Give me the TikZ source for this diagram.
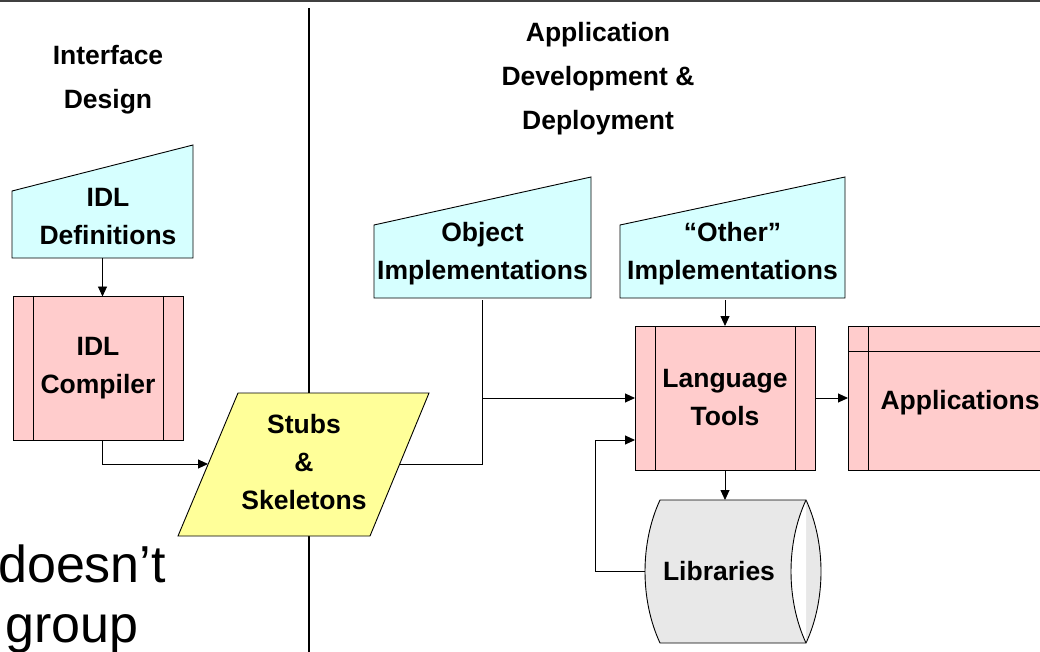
\documentclass[tikz,border=0pt]{standalone}
\usepackage{fontspec}
\setmainfont{Liberation Sans}
\usetikzlibrary{arrows.meta}

\definecolor{inputfill}{RGB}{214,255,255}
\definecolor{procfill}{RGB}{255,204,204}
\definecolor{datafill}{RGB}{255,255,153}
\definecolor{drumfill}{RGB}{232,232,232}

\begin{document}
\begin{tikzpicture}[x=1pt,y=-1pt,
    txt/.style={font=\bfseries\fontsize{26.5}{38}\selectfont,align=center,inner sep=0pt,outer sep=0pt},
    head/.style={txt,font=\bfseries\fontsize{26.5}{44}\selectfont},
    outl/.style={draw=black,line width=0.9pt},
    proc/.style={txt,outl,fill=procfill,minimum height=144pt},
    link/.style={line width=0.9pt},
    arr/.style={link,-{Triangle[length=10pt,width=9pt]}},
    big/.style={anchor=base west,font=\fontsize{52}{52}\selectfont,inner sep=0pt}]
\useasboundingbox (0,0) rectangle (1040,652);
\clip (0,0) rectangle (1040,652);

% top rule and column divider
\draw[line width=2.2pt,black!75] (0,1) -- (1040,1);
\draw[line width=2.5pt] (309,8) -- (309,652);

\node[head] (ifhead) at (108,80) {Interface\\Design};
\node[head] (apphead) at (598,79) {Application\\Development \&\\Deployment};

% manual input outlines
\filldraw[outl,fill=inputfill] (12,258) -- (193,258) -- (193,145) -- (12,191) -- cycle;
\filldraw[outl,fill=inputfill] (374,298) -- (591,298) -- (591,177) -- (374,225) -- cycle;
\filldraw[outl,fill=inputfill] (620,298) -- (845,298) -- (845,177) -- (620,225) -- cycle;

% parallelogram for the generated code
\filldraw[outl,fill=datafill] (178,536) -- (370,536) -- (429,393) -- (238,393) -- cycle;

% drum for the libraries
\filldraw[outl,fill=drumfill] (660,500) -- (806,500) .. controls (826,543) and (826,600) .. (806,643)
  -- (660,643) .. controls (640,600) and (640,543) .. (660,500) -- cycle;
\fill[white] (806,500) .. controls (786,543) and (786,600) .. (806,643) -- cycle;
\draw[outl] (806,500) .. controls (786,543) and (786,600) .. (806,643);

\node[txt,minimum width=181pt,minimum height=82pt,
  label={[txt,xshift=5.5pt]center:IDL\\Definitions}] (def) at (102.5,217) {};
\node[proc,minimum width=170pt] (comp) at (98,368.5) {IDL\\Compiler};
\node[txt,minimum width=192pt,minimum height=143pt] (stubs) at (304,462.5) {Stubs\\\&\\Skeletons};
\node[txt,minimum width=217pt,minimum height=92pt] (obj) at (482.5,254) {Object\\Implementations};
\node[txt,minimum width=225pt,minimum height=92pt] (other) at (732.5,254) {“Other”\\Implementations};
\node[proc,minimum width=180pt] (lt) at (725,398) {Language\\Tools};
\node[proc,minimum width=224pt,label={[txt,yshift=-5pt]center:Applications}] (app) at (960,398) {};
\node[txt,minimum width=161pt,minimum height=143pt,
  label={[txt,xshift=-6.5pt]center:Libraries}] (lib) at (725.5,571.5) {};

% side bars of the process boxes
\foreach \p in {comp,lt} {
  \draw[outl] ([xshift=20pt]\p.north west) -- ([xshift=20pt]\p.south west);
  \draw[outl] ([xshift=-20pt]\p.north east) -- ([xshift=-20pt]\p.south east);
}
\draw[outl] ([xshift=20pt]app.north west) -- ([xshift=20pt]app.south west);
\draw[outl] ([yshift=-25pt]app.north west) -- ([yshift=-25pt]app.north east);

% connectors
\draw[arr] (def.south) -- (def.south |- comp.north);
\draw[arr] (comp.south -| def.south) |- ([yshift=-1.5pt]stubs.west);
\draw[link] ([yshift=-1.5pt]stubs.east) -| (obj.south);
\draw[arr] (obj.south |- lt.west) -- (lt.west);
\draw[arr] (lt.north |- other.south) -- (lt.north);
\draw[arr] (lt.east) -- (app.west);
\draw[arr] (lt.south) -- (lt.south |- lib.north);
\draw[arr] (lib.west) -- ++(-50,0) |- ([yshift=-42pt]lt.west);

\node[big] (frag1) at (-2,582) {doesn’t};
\node[big] (frag2) at (5,642) {group};
\end{tikzpicture}
\end{document}
